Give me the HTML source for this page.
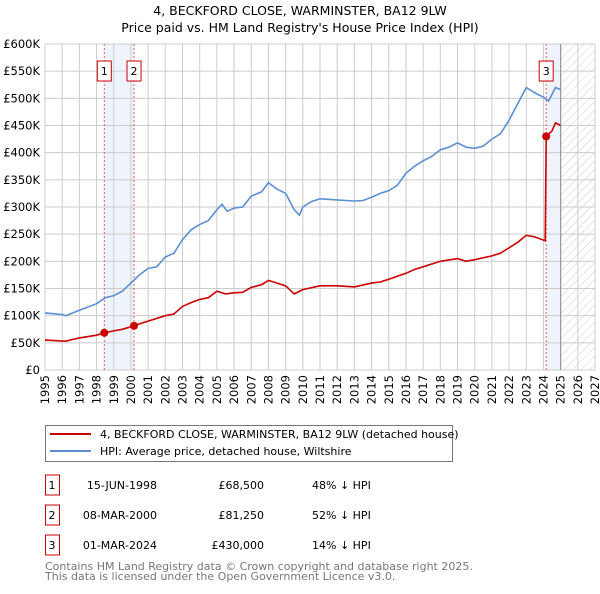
<!DOCTYPE html>
<html><head><meta charset="utf-8"><style>
body{margin:0;background:#fff;font-family:"DejaVu Sans","Liberation Sans",sans-serif;}
svg text{font-family:"DejaVu Sans","Liberation Sans",sans-serif;}
</style></head><body>
<svg id="chart" width="600" height="590" xmlns="http://www.w3.org/2000/svg">
<defs><pattern id="hatch" width="6" height="6" patternUnits="userSpaceOnUse" patternTransform="rotate(45)"><line x1="0" y1="0" x2="0" y2="6" stroke="#ccc" stroke-width="1"/></pattern></defs>
<text x="300" y="15" text-anchor="middle" font-size="12.5">4, BECKFORD CLOSE, WARMINSTER, BA12 9LW</text>
<text x="300" y="32" text-anchor="middle" font-size="12.5">Price paid vs. HM Land Registry's House Price Index (HPI)</text>
<g id="bg"></g><g id="grid"></g><g id="lines"></g><g id="marks"></g><g id="axes"></g>
<g>
<rect x="45.5" y="425.5" width="407" height="36" fill="#fff" stroke="#777"/>
<line x1="50" y1="434" x2="91" y2="434" stroke="#cc0000" stroke-width="2"/>
<text x="100" y="438" font-size="11">4, BECKFORD CLOSE, WARMINSTER, BA12 9LW (detached house)</text>
<line x1="50" y1="451" x2="91" y2="451" stroke="#5b8fd4" stroke-width="2"/>
<text x="100" y="455" font-size="11">HPI: Average price, detached house, Wiltshire</text>
</g>
<g id="table" font-size="11"></g>
<text x="45" y="570" font-size="11" fill="#777">Contains HM Land Registry data © Crown copyright and database right 2025.</text>
<text x="45" y="580" font-size="11" fill="#777">This data is licensed under the Open Government Licence v3.0.</text>
</svg>
<script>
const hpiYears=[1995,1996,1996.2,1997,1998,1998.5,1999,1999.5,2000,2000.5,2001,2001.5,2002,2002.5,2003,2003.5,2004,2004.5,2005,2005.3,2005.6,2006,2006.5,2007,2007.6,2008,2008.5,2009,2009.5,2009.8,2010,2010.5,2011,2012,2012.5,2013,2013.5,2014,2014.5,2015,2015.5,2016,2016.5,2017,2017.5,2018,2018.5,2019,2019.5,2020,2020.5,2021,2021.5,2022,2022.5,2023,2023.5,2024,2024.3,2024.7,2025];
const hpiValues=[105,102,100,110,122,133,137,145,160,175,187,190,208,215,240,258,268,275,295,305,292,298,300,320,328,345,333,325,295,285,300,310,315,313,312,311,312,318,325,330,340,362,375,385,393,405,410,418,410,408,412,425,435,460,490,520,510,502,495,520,516];
const priceYears=[1995,1996.2,1997,1998,1998.45,1999,1999.5,2000.18,2000.5,2001,2002,2002.5,2003,2003.5,2004,2004.5,2005,2005.5,2006,2006.5,2007,2007.6,2008,2008.5,2009,2009.5,2010,2011,2012,2013,2014,2014.5,2015,2016,2016.5,2017,2018,2019,2019.5,2020,2021,2021.5,2022,2022.5,2023,2023.5,2024.1,2024.16,2024.5,2024.7,2025];
const priceValues=[55,53,59,64,68.5,72,75,81.25,85,90,100,103,117,124,130,133,145,140,142,143,152,157,165,160,155,140,148,155,155,153,160,162,167,178,185,190,200,205,200,203,210,215,225,235,248,245,238,430,440,455,450];
const saleYears=[1998.45,2000.18,2024.16];
const saleValues=[68.5,81.25,430];
const saleLabels=["1","2","3"];
const saleDates=["15-JUN-1998","08-MAR-2000","01-MAR-2024"];
const salePrices=["£68,500","£81,250","£430,000"];
const saleDiffs=["48% ↓ HPI","52% ↓ HPI","14% ↓ HPI"];
const yTicks=[0,50,100,150,200,250,300,350,400,450,500,550,600];
const yTickLabels=["£0","£50K","£100K","£150K","£200K","£250K","£300K","£350K","£400K","£450K","£500K","£550K","£600K"];
const xTicks=[1995,1996,1997,1998,1999,2000,2001,2002,2003,2004,2005,2006,2007,2008,2009,2010,2011,2012,2013,2014,2015,2016,2017,2018,2019,2020,2021,2022,2023,2024,2025,2026,2027];
const X0=45,X1=595,Y0=370,Y1=44,XMIN=1995,XMAX=2027,VMAX=600,DATAEND=2025;
const sx=v=>X0+(v-XMIN)/(XMAX-XMIN)*(X1-X0);
const sy=v=>Y0-v/VMAX*(Y0-Y1);
const NS="http://www.w3.org/2000/svg";
function mk(parent,tag,attrs){const e=document.createElementNS(NS,tag);for(const k in attrs)e.setAttribute(k,attrs[k]);document.getElementById(parent).appendChild(e);return e;}
// background
let e;
e=mk('bg','rect',{x:sx(saleYears[0]),y:Y1,width:sx(saleYears[1])-sx(saleYears[0]),height:Y0-Y1,fill:'#eef3fc'});


e=mk('bg','rect',{x:sx(saleYears[2]),y:Y1,width:sx(DATAEND)-sx(saleYears[2]),height:Y0-Y1,fill:'#eef3fc'});


e=mk('bg','rect',{x:sx(DATAEND),y:Y1,width:X1-sx(DATAEND),height:Y0-Y1,fill:'url(#hatch)'});


// grid
xTicks.forEach(t=>{const g=mk('grid','line',{x1:sx(t),x2:sx(t),y1:Y1,y2:Y0,stroke:'#cccccc','stroke-width':1});

});
yTicks.forEach((t,i)=>{const g=mk('grid','line',{x1:X0,x2:X1,y1:sy(t),y2:sy(t),stroke:'#cccccc','stroke-width':1});


const l=mk('axes','text',{x:X0-5,y:sy(t)+4,'text-anchor':'end','font-size':11.5});l.textContent=yTickLabels[i];

});
xTicks.forEach(t=>{const l=mk('axes','text',{transform:`translate(${sx(t)+4},${Y0+5}) rotate(-90)`,'text-anchor':'end','font-size':11.5});l.textContent=t;

});
e=mk('grid','line',{x1:sx(DATAEND),x2:sx(DATAEND),y1:Y1,y2:Y0,stroke:'#999','stroke-width':1.2});


// sale vlines and labels
saleYears.forEach((y,i)=>{const v=mk('grid','line',{x1:sx(y),x2:sx(y),y1:Y1,y2:Y0,stroke:'#e06060','stroke-width':1,'stroke-dasharray':'2,2'});


const bx=mk('marks','rect',{x:sx(y)-7-(i==0?-3:0)-(i==0?3:0),y:61,width:14,height:20,fill:'#fff',stroke:'#cc0000'});


const t=mk('marks','text',{x:sx(y),y:75,'text-anchor':'middle','font-size':11});t.textContent=saleLabels[i];

});
// lines
const path=(xs,vs)=>xs.map((x,i)=>(i?'L':'M')+sx(x).toFixed(1)+','+sy(vs[i]).toFixed(1)).join('');
e=mk('lines','path',{d:path(hpiYears,hpiValues),fill:'none',stroke:'#5b8fd4','stroke-width':1.6});


e=mk('lines','path',{d:path(priceYears,priceValues),fill:'none',stroke:'#cc0000','stroke-width':1.6});


saleYears.forEach((y,i)=>{const c=mk('lines','circle',{cx:sx(y),cy:sy(saleValues[i]),r:4,fill:'#cc0000'});

});
// table
saleLabels.forEach((l,i)=>{const yy=485+i*30;
const b=mk('table','rect',{x:45.5,y:yy-10,width:14,height:20,fill:'#fff',stroke:'#cc0000'});


const cols=[[52,'middle',l],[157,'end',saleDates[i]],[264,'end',salePrices[i]],[312,'start',saleDiffs[i]]];
cols.forEach(c=>{const t=mk('table','text',{x:c[0],y:yy+4,'text-anchor':c[1]});t.textContent=c[2];

});});
</script>
</body></html>
